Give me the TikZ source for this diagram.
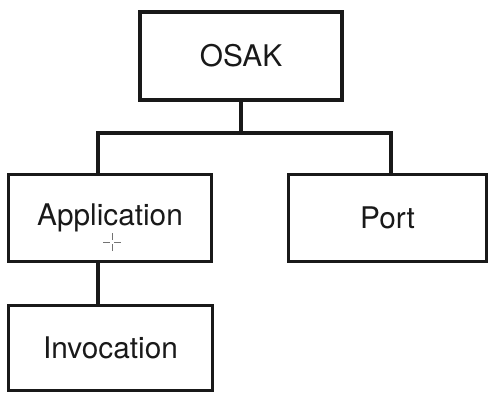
\documentclass[tikz,border=0pt]{standalone}
\usepackage{fontspec}
\setmainfont{TeX Gyre Heros}
\begin{document}
\begin{tikzpicture}[x=1pt,y=-1pt,
  box/.style={draw=black!90, line width=3.3pt, rectangle, inner sep=0pt,
    font=\fontsize{29.8}{35}\selectfont, text=black!90},
  link/.style={draw=black!90, line width=3.3pt},
  cursor/.style={draw=black!55, line width=0.8pt}]
\useasboundingbox (0,0) rectangle (489,394);
\node[box, minimum width=202pt, minimum height=88pt] (osak) at (241,56) {OSAK};
\node[box, minimum width=203pt, minimum height=87pt] (app) at (110,218) {Application};
\node[box, minimum width=198pt, minimum height=87pt] (port) at (387.5,218) {Port};
\node[box, minimum width=204pt, minimum height=85pt] (inv) at (110.5,348) {Invocation};
\coordinate (j) at (241,133);
\coordinate (ax) at (98,0);
\coordinate (px) at (391,0);
\draw[link] (osak.south) -- (j);
\draw[link] (app.north -| ax) |- (j) -| (port.north -| px);
\draw[link] (app.south -| ax) -- (inv.north -| ax);
% cursor artifact
\coordinate (c) at (112,242);
\draw[cursor] ([yshift=-9pt]c) -- ([yshift=-2pt]c) ([yshift=2pt]c) -- ([yshift=9pt]c);
\draw[cursor] ([xshift=-9pt]c) -- ([xshift=-2pt]c) ([xshift=2pt]c) -- ([xshift=9pt]c);
\end{tikzpicture}
\end{document}
